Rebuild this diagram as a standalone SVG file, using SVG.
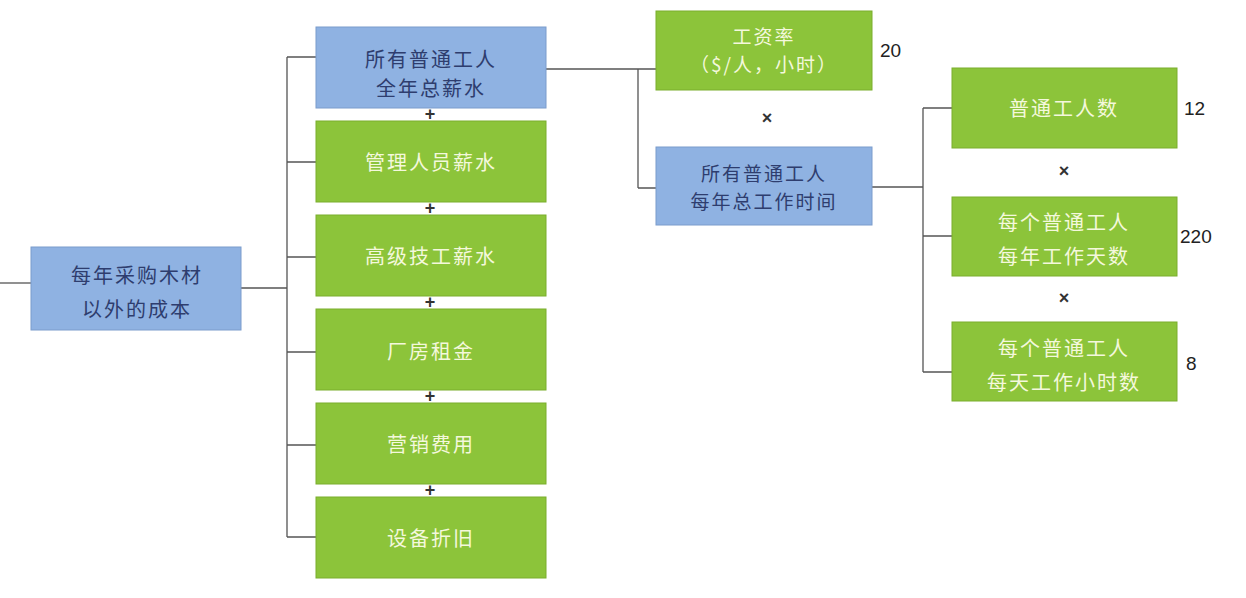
<svg xmlns="http://www.w3.org/2000/svg" width="1246" height="598" viewBox="0 0 1246 598">
<style>
.g{fill:#8cc43a;stroke:#7aae2c;stroke-width:1}
.b{fill:#8fb2e2;stroke:#7b9ccc;stroke-width:1}
.t{font-family:"Noto Sans CJK SC","Noto Sans",sans-serif;font-size:20px;text-anchor:middle;dominant-baseline:central;letter-spacing:2px}
.s{font-size:19px}
.tg{fill:#f4f8dc}
.tb{fill:#2e3d6e}
.n{font-family:"Liberation Sans",Arial,sans-serif;font-size:19px;fill:#222;dominant-baseline:central}
.op{font-family:"Liberation Sans",Arial,sans-serif;font-size:18px;font-weight:bold;fill:#333;text-anchor:middle;dominant-baseline:central}
.c{fill:none;stroke:#555;stroke-width:1.3}
</style>
<rect width="1246" height="598" fill="#ffffff"/>
<g id="connectors">
<path class="c" d="M0 283H31"/>
<path class="c" d="M241 288H287M287 57V537M287 57H316M287 162H316M287 257H316M287 352H316M287 445H316M287 537H316"/>
<path class="c" d="M546 69H638M638 69V188M638 69H656M638 188H656"/>
<path class="c" d="M872 187H923M923 108V372M923 108H952M923 236H952M923 372H952"/>
</g>
<g id="n-root"><rect class="b" x="31" y="247" width="210" height="83"/><text class="t tb" x="137" y="274">每年采购木材</text><text class="t tb" x="137" y="308">以外的成本</text></g>
<g id="n-wage-total"><rect class="b" x="316" y="27" width="230" height="81"/><text class="t tb" x="431" y="58">所有普通工人</text><text class="t tb" x="431" y="87">全年总薪水</text></g>
<g id="n-mgmt"><rect class="g" x="316" y="121" width="230" height="81"/><text class="t tg" x="431" y="161">管理人员薪水</text></g>
<g id="n-senior"><rect class="g" x="316" y="215" width="230" height="81"/><text class="t tg" x="431" y="255">高级技工薪水</text></g>
<g id="n-rent"><rect class="g" x="316" y="309" width="230" height="81"/><text class="t tg" x="431" y="350">厂房租金</text></g>
<g id="n-marketing"><rect class="g" x="316" y="403" width="230" height="81"/><text class="t tg" x="431" y="443">营销费用</text></g>
<g id="n-depr"><rect class="g" x="316" y="497" width="230" height="81"/><text class="t tg" x="431" y="537">设备折旧</text></g>
<g id="ops-plus">
<text class="op" x="430" y="114">+</text><text class="op" x="430" y="208">+</text><text class="op" x="430" y="302">+</text><text class="op" x="430" y="396">+</text><text class="op" x="430" y="490">+</text>
</g>
<g id="n-rate"><rect class="g" x="656" y="11" width="216" height="79"/><text class="t s tg" x="764" y="35">工资率</text><text class="t s tg" x="764" y="63">（$/人，小时）</text><text class="n" x="880" y="50">20</text></g>
<text class="op" x="767" y="118">×</text>
<g id="n-hours-total"><rect class="b" x="656" y="147" width="216" height="78"/><text class="t s tb" x="764" y="172">所有普通工人</text><text class="t s tb" x="764" y="200">每年总工作时间</text></g>
<g id="n-count"><rect class="g" x="952" y="68" width="225" height="80"/><text class="t tg" x="1064" y="107">普通工人数</text><text class="n" x="1184" y="108">12</text></g>
<text class="op" x="1064" y="171">×</text>
<g id="n-days"><rect class="g" x="952" y="197" width="225" height="79"/><text class="t tg" x="1064" y="221">每个普通工人</text><text class="t tg" x="1064" y="255">每年工作天数</text><text class="n" x="1180" y="236">220</text></g>
<text class="op" x="1064" y="298">×</text>
<g id="n-hpd"><rect class="g" x="952" y="322" width="225" height="79"/><text class="t tg" x="1064" y="347">每个普通工人</text><text class="t tg" x="1064" y="381">每天工作小时数</text><text class="n" x="1186" y="363">8</text></g>
</svg>
